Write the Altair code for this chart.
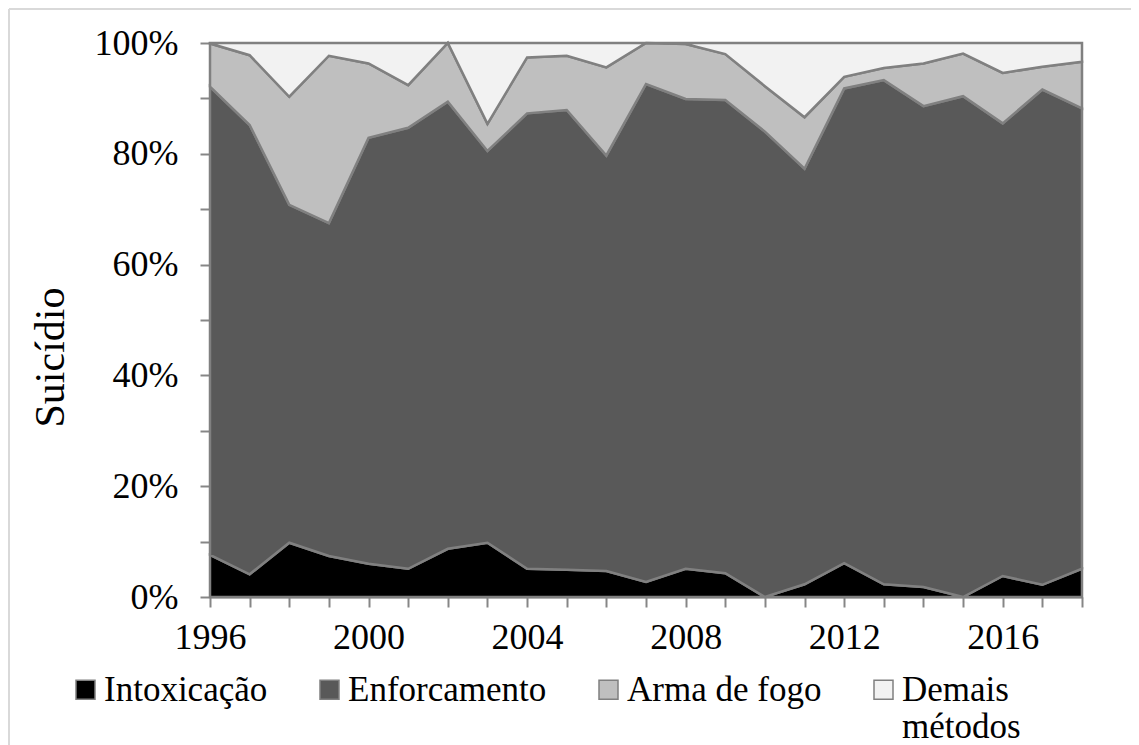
import altair as alt
import pandas as pd

years = list(range(1996, 2019))
intoxicacao = [7.6, 4.1, 9.8, 7.4, 6.0, 5.1, 8.7, 9.8, 5.1, 4.9, 4.7, 2.7, 5.1, 4.3, 0.0, 2.3, 6.1, 2.3, 1.8, 0.0, 3.8, 2.2, 5.1]
enforcamento = [84.5, 81.1, 61.0, 60.1, 76.9, 79.6, 80.7, 70.7, 82.2, 83.0, 75.0, 89.9, 84.8, 85.4, 84.0, 75.0, 85.7, 91.0, 86.8, 90.4, 81.7, 89.4, 83.1]
arma_de_fogo = [7.8, 12.6, 19.5, 30.2, 13.4, 7.7, 10.6, 4.9, 10.1, 9.8, 15.9, 7.4, 9.9, 8.3, 8.2, 9.3, 2.1, 2.2, 7.7, 7.7, 9.1, 4.1, 8.4]
demais = [0.1, 2.2, 9.7, 2.3, 3.7, 7.6, 0.0, 14.6, 2.6, 2.3, 4.4, 0.0, 0.2, 2.0, 7.8, 13.4, 6.1, 4.5, 3.7, 1.9, 5.4, 4.3, 3.4]

series = ["Intoxicação", "Enforcamento", "Arma de fogo", "Demais métodos"]
colors = ["#000000", "#595959", "#bfbfbf", "#f2f2f2"]

rows = []
for i, (name, vals) in enumerate(zip(series, [intoxicacao, enforcamento, arma_de_fogo, demais])):
    for y, v in zip(years, vals):
        rows.append({"ano": y, "metodo": name, "ordem": i, "valor": v})
df = pd.DataFrame(rows)

FONT = "Liberation Serif"

areas = alt.Chart(df).transform_calculate(
    frac="datum.valor / 100"
).mark_area(stroke="#808080", strokeWidth=2.5, strokeJoin="miter").encode(
    x=alt.X("ano:Q",
            scale=alt.Scale(domain=[1996, 2018], nice=False, zero=False),
            axis=alt.Axis(values=years, format="d",
                          labelExpr="datum.value % 4 == 0 ? datum.label : ''",
                          title=None, grid=False, tickSize=10, labelPadding=13,
                          domainColor="#868686", tickColor="#868686", domainWidth=2, tickWidth=2,
                          labelFont=FONT, labelFontSize=36, labelColor="#000000",
                          labelFlush=False, labelOverlap=False)),
    y=alt.Y("frac:Q", stack="zero",
            scale=alt.Scale(domain=[0, 1], nice=False),
            axis=alt.Axis(values=[i / 10 for i in range(11)], format=".0%",
                          labelExpr="round(datum.value * 10) % 2 == 0 ? datum.label : ''",
                          title="Suicídio", grid=False, tickSize=10, labelPadding=22,
                          domainColor="#868686", tickColor="#868686", domainWidth=2, tickWidth=2,
                          labelFont=FONT, labelFontSize=36, labelColor="#000000",
                          titleFont=FONT, titleFontSize=42, titleFontWeight="normal",
                          titleColor="#000000", titlePadding=22, titleY=314)),
    color=alt.Color("metodo:N",
                    scale=alt.Scale(domain=series, range=colors),
                    legend=alt.Legend(title=None, orient="none", direction="horizontal",
                                      legendX=-142, legendY=629, columns=4,
                                      symbolType="square", symbolSize=361,
                                      symbolStrokeColor="#808080", symbolStrokeWidth=1.5,
                                      symbolOpacity=1,
                                      labelFont=FONT, labelFontSize=35, labelColor="#000000",
                                      labelLimit=0, labelOffset=1, columnPadding=44,
                                      labelBaseline="middle",
                                      labelExpr="datum.label == 'Demais métodos' ? ['Demais', 'métodos'] : [datum.label, ' ']")),
    order=alt.Order("ordem:Q", sort="ascending"),
)

border_top = alt.Chart(df).mark_rule(color="#d9d9d9", strokeWidth=2).encode(
    x=alt.value(-201), x2=alt.value(930), y=alt.value(-34))
border_left = alt.Chart(df).mark_rule(color="#d9d9d9", strokeWidth=2).encode(
    x=alt.value(-201), y=alt.value(-34), y2=alt.value(715))

chart = alt.layer(border_top, border_left, areas).properties(
    width=872, height=554,
    autosize=alt.AutoSizeParams(type="none"),
    padding={"left": 202, "top": 35, "right": 49, "bottom": 150},
).configure_view(strokeWidth=0).configure(background="#ffffff")

chart.save("out.html", embed_options={"renderer": "svg", "actions": False})
